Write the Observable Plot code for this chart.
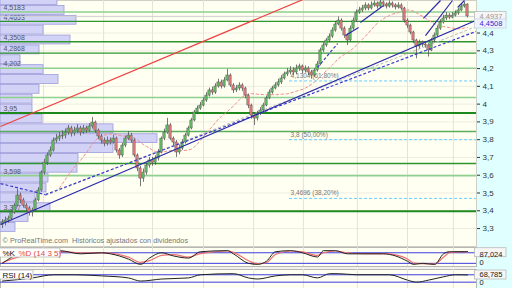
<!DOCTYPE html>
<html><head><meta charset="utf-8">
<script src="https://cdn.jsdelivr.net/npm/d3@7"></script>
<script src="https://cdn.jsdelivr.net/npm/@observablehq/plot@0.6"></script>
<style>
body{margin:0;background:#fff;}
#wrap{position:relative;width:512px;height:288px;overflow:hidden;background:#f2f2f2;font-family:"Liberation Sans",Arial,sans-serif;}
#cyan{position:absolute;left:476px;top:0;width:36px;height:288px;background:#e0ffff;}
</style></head>
<body><div id="wrap"><div id="cyan"></div></div>
<script>
// ---------- data ----------
const firstOpen = 3.32;
const closes = [3.334,3.345,3.356,3.390,3.429,3.486,3.458,3.429,3.413,3.390,
 3.401,3.458,3.514,3.615,3.671,3.711,3.739,3.795,3.806,3.818,
 3.823,3.840,3.863,3.835,3.851,3.863,3.840,3.863,3.851,3.874,
 3.896,3.851,3.818,3.795,3.778,3.795,3.784,3.806,3.739,3.711,
 3.767,3.806,3.823,3.795,3.711,3.638,3.581,3.615,3.654,3.683,
 3.671,3.694,3.728,3.806,3.840,3.880,3.806,3.784,3.728,3.750,
 3.784,3.823,3.863,3.908,3.953,3.975,3.992,4.020,4.048,4.077,
 4.065,4.099,4.122,4.099,4.133,4.161,4.105,4.077,4.088,4.105,
 4.088,4.048,3.992,3.936,3.919,3.947,3.964,3.992,4.032,4.065,
 4.088,4.105,4.122,4.144,4.167,4.178,4.189,4.178,4.200,4.212,
 4.189,4.200,4.178,4.161,4.189,4.223,4.302,4.330,4.358,4.380,
 4.414,4.448,4.470,4.425,4.386,4.358,4.425,4.470,4.515,4.527,
 4.538,4.555,4.538,4.555,4.566,4.549,4.572,4.560,4.549,4.566,
 4.555,4.544,4.555,4.538,4.470,4.442,4.403,4.358,4.324,4.347,
 4.335,4.330,4.302,4.358,4.386,4.425,4.459,4.482,4.498,4.487,
 4.498,4.510,4.527,4.549,4.560,4.4937];
const highs = [3.350,3.365,3.370,3.400,3.440,3.520,3.500,3.470,3.440,3.425,
 3.415,3.470,3.530,3.625,3.690,3.725,3.760,3.810,3.830,3.840,
 3.850,3.860,3.880,3.875,3.870,3.885,3.875,3.880,3.875,3.890,
 3.925,3.905,3.860,3.830,3.810,3.815,3.810,3.825,3.815,3.750,
 3.780,3.820,3.845,3.835,3.805,3.720,3.650,3.635,3.670,3.700,
 3.700,3.710,3.745,3.815,3.860,3.920,3.890,3.815,3.795,3.770,
 3.800,3.835,3.875,3.920,3.965,3.990,4.010,4.035,4.065,4.090,
 4.095,4.115,4.140,4.135,4.150,4.195,4.170,4.115,4.105,4.120,
 4.115,4.095,4.055,4.000,3.945,3.960,3.980,4.005,4.045,4.080,
 4.100,4.120,4.140,4.160,4.180,4.200,4.210,4.205,4.220,4.225,
 4.220,4.215,4.210,4.190,4.200,4.240,4.315,4.345,4.370,4.395,
 4.430,4.465,4.490,4.480,4.435,4.395,4.440,4.485,4.530,4.545,
 4.555,4.570,4.565,4.575,4.580,4.575,4.583,4.580,4.570,4.580,
 4.575,4.565,4.570,4.565,4.545,4.480,4.450,4.410,4.365,4.360,
 4.355,4.350,4.340,4.370,4.400,4.440,4.475,4.500,4.515,4.510,
 4.515,4.525,4.540,4.565,4.575,4.565];
const lows = [3.300,3.315,3.330,3.345,3.380,3.420,3.440,3.415,3.395,3.370,
 3.365,3.395,3.450,3.505,3.600,3.655,3.700,3.730,3.780,3.790,
 3.800,3.805,3.825,3.815,3.820,3.835,3.820,3.830,3.835,3.840,
 3.860,3.835,3.800,3.775,3.760,3.765,3.770,3.775,3.725,3.690,
 3.700,3.755,3.795,3.780,3.700,3.620,3.535,3.560,3.600,3.640,
 3.650,3.655,3.680,3.720,3.795,3.830,3.795,3.765,3.700,3.715,
 3.740,3.775,3.815,3.855,3.900,3.940,3.965,3.985,4.010,4.040,
 4.050,4.055,4.090,4.085,4.090,4.125,4.095,4.060,4.065,4.075,
 4.070,4.030,3.975,3.915,3.880,3.905,3.935,3.955,3.985,4.025,
 4.055,4.080,4.095,4.110,4.135,4.155,4.165,4.160,4.165,4.185,
 4.170,4.175,4.160,4.140,4.150,4.180,4.215,4.290,4.320,4.345,
 4.370,4.405,4.440,4.410,4.370,4.330,4.350,4.415,4.460,4.505,
 4.515,4.525,4.525,4.530,4.545,4.535,4.540,4.545,4.535,4.540,
 4.540,4.530,4.535,4.525,4.455,4.425,4.390,4.340,4.255,4.310,
 4.320,4.315,4.265,4.295,4.345,4.375,4.415,4.450,4.470,4.475,
 4.480,4.490,4.500,4.520,4.540,4.485];

// volume-by-price profile (bin lower bound, bin size, volume)
const binSize = 0.0555;
const binLows = [4.555,4.4995,4.444,4.3885,4.333,4.2775,4.222,4.1665,4.111,4.0555,4.0,3.9445,
 3.889,3.8335,3.778,3.7225,3.667,3.6115,3.556,3.5005,3.445,3.3895,3.334,3.2785];
const binVolumes = [570,640,760,430,700,390,200,430,580,390,320,320,
 420,1130,1570,1130,780,770,480,460,350,500,280,150];

// support / resistance levels
const levelLabels = [4.5183,4.4653,4.3508,4.2868,4.202,3.95,3.598,3.397];
const levelsDark = [4.4653,4.3508,4.2868,3.666];
const levelsLight = [4.5183,4.202,4.037,3.598];
const levelsMid = [3.846];
const levelsThick = [3.95,3.397];
const lastPrice = 4.4937;
const trendValue = 4.4508;

// fibonacci retracement
const fibLevels = [4.1304,3.8,3.4696];
const fibPct = ["61,80%","50,00%","38,20%"];
const fibStartIdx = 95.7;

// trend lines: [index1, price1, index2, price2]
const redLines = [[-0.67,3.874,132.7,4.819]];
const blueSolidLines = [[-0.67,3.323,158,4.4725],
 [140.3,4.482,146,4.583],[141,4.386,150,4.583],[151.7,4.544,154,4.583],
 [114.3,4.386,118.7,4.431],[119.3,4.459,127,4.555]];
const blueDashedLines = [[-0.67,3.553,14.3,3.491],[14.3,3.491,158,4.41],[105,4.206,111.7,4.341]];
const grayDashedLines = [[14.3,3.486,158,4.437]];

// vertical grid (candle index)
const gridIdx = [13.7,33.7,50,67,83.7,100.3,118.3,135,150.3];
const priceTicks = [3.3,3.4,3.5,3.6,3.7,3.8,3.9,4.0,4.1,4.2,4.3,4.4];

// stochastic %K, %D and RSI samples (candle index, value)
const stochIdx = [0,6,19,26,33,36,42,46,49,53,57,62,66,75,77,82,85,88,91,96,100,105,107,111,115,120,127,131,135,137,140,144,147,149,154,155];
const stochK = [20,74,92,74,80,74,44,14,50,80,62,50,86,92,74,20,14,32,86,92,80,56,92,92,74,74,74,62,32,14,20,14,74,86,86,87];
const stochD = [25,60,88,80,80,78,55,25,35,65,70,55,75,90,82,35,18,25,70,90,85,65,80,90,80,75,75,68,45,22,18,16,55,80,86,84];
const rsiIdx = [0,10,17,24,33,42,46,53,62,66,77,82,85,91,96,100,105,109,112,118,129,135,138,142,147,151,155];
const rsiVal = [36,53,70,70,64,53,36,47,53,70,76,53,47,64,70,70,53,76,76,70,70,41,30,41,59,70,69];

// ---------- build ----------
const comma = d => String(d).replace(".", ",");
const candles = closes.map((c, i) => ({i, o: i === 0 ? firstOpen : closes[i-1], h: highs[i], l: lows[i], c}));
const ma20 = closes.map((c, i) => ({i, v: i < 19 ? NaN : d3.mean(closes.slice(i-19, i+1))}));
const bins = binLows.map((lo, k) => ({lo, hi: lo + binSize, vol: binVolumes[k]}));
const seg = a => a.map(([x1,y1,x2,y2]) => ({x1,y1,x2,y2}));

const W = 512, MR = 36, MAIN_H = 246;
const xDomain = [-0.667, 158];
const yMain = [3.199, 4.583];
const base = {width: W, marginLeft: 0, marginRight: MR, marginTop: 0, marginBottom: 0,
  style: {background: "transparent", overflow: "visible", fontFamily: "Liberation Sans, Arial, sans-serif"}};
const wrap = document.getElementById("wrap");
function put(svg, top) { svg.style.position = "absolute"; svg.style.left = "0px"; svg.style.top = top + "px"; wrap.appendChild(svg); }

// layer 0: background grid + right axis
put(Plot.plot({...base, height: MAIN_H,
  x: {domain: xDomain, axis: null}, y: {domain: yMain, axis: null},
  marks: [
    Plot.frame({fill: "#fffff2", stroke: "#cfcfc8"}),
    Plot.ruleY(priceTicks, {stroke: "#ecece0"}),
    Plot.ruleX(gridIdx, {stroke: "#e4e4d6"}),
    Plot.axisY({anchor: "right", ticks: priceTicks, tickFormat: comma, tickSize: 3, tickPadding: 3, fontSize: 8, color: "#333"})
  ]}), 0);

// layer 1: volume profile
put(Plot.plot({...base, height: MAIN_H,
  x: {domain: [0, 4760], axis: null}, y: {domain: yMain, axis: null},
  marks: [
    Plot.rect(bins, {x1: 0, x2: "vol", y1: "lo", y2: "hi", fill: "#d2d2f6", stroke: "#9c9cdc", strokeWidth: 0.8, insetTop: 0.5, insetBottom: 0.5}),
    Plot.text(levelLabels, {x: 0, y: d => d, text: comma, dx: 3, dy: -4, textAnchor: "start", fontSize: 7, fill: "#555"})
  ]}), 0);

// layer 2: levels, lines, candles
put(Plot.plot({...base, height: MAIN_H,
  x: {domain: xDomain, axis: null}, y: {domain: yMain, axis: null},
  marks: [
    Plot.ruleY([lastPrice], {stroke: "#d0d0d0"}),
    Plot.ruleY(levelsLight, {stroke: "#8fd08f", strokeWidth: 1.6}),
    Plot.ruleY(levelsMid, {stroke: "#5cae5c", strokeWidth: 1.4}),
    Plot.ruleY(levelsDark, {stroke: "#2f962f", strokeWidth: 1.4}),
    Plot.ruleY(levelsThick, {stroke: "#1e8a1e", strokeWidth: 2}),
    Plot.ruleY(fibLevels, {x1: fibStartIdx, x2: xDomain[1], stroke: "#66ccff", strokeDasharray: "3,2"}),
    Plot.text(fibLevels, {x: fibStartIdx, y: d => d, text: (d, k) => `${comma(d)} (${fibPct[k]})`, dx: 1, dy: -5, textAnchor: "start", fontSize: 6.5, fill: "#777"}),
    Plot.line(ma20, {x: "i", y: "v", stroke: "#f08a8a", strokeWidth: 1, strokeDasharray: "2.5,2.5"}),
    Plot.link(seg(grayDashedLines), {x1: "x1", y1: "y1", x2: "x2", y2: "y2", stroke: "#b8b8b8", strokeDasharray: "3,2", clip: true}),
    Plot.ruleX(candles, {x: "i", y1: "l", y2: "h", stroke: "#555", strokeWidth: 0.8}),
    Plot.rect(candles, {x1: d => d.i - 0.38, x2: d => d.i + 0.38, y1: "o", y2: "c",
      fill: d => d.c >= d.o ? "#62c062" : "#e87a7a", stroke: "#555", strokeWidth: 0.5}),
    Plot.link(seg(redLines), {x1: "x1", y1: "y1", x2: "x2", y2: "y2", stroke: "#ee4444", strokeWidth: 1.2, clip: true}),
    Plot.link(seg(blueDashedLines), {x1: "x1", y1: "y1", x2: "x2", y2: "y2", stroke: "#3a3ad0", strokeWidth: 1.2, strokeDasharray: "3,2", clip: true}),
    Plot.link(seg(blueSolidLines), {x1: "x1", y1: "y1", x2: "x2", y2: "y2", stroke: "#2a2aa8", strokeWidth: 1.2, clip: true}),
    Plot.text(["© ProRealTime.com  Históricos ajustados con dividendos"], {frameAnchor: "bottom-left", dx: 2, dy: -6, textAnchor: "start", lineAnchor: "middle", fontSize: 7.3, fill: "#777"}),
    Plot.rect([lastPrice], {x1: xDomain[1], x2: xDomain[1], y1: d => d, y2: d => d, insetLeft: -1.5, insetRight: -30, insetTop: -4.5, insetBottom: -4.5, fill: "#f6f6f6", stroke: "#bbb", strokeWidth: 0.8}),
    Plot.text([lastPrice], {x: xDomain[1], y: d => d, text: comma, dx: 3, textAnchor: "start", fontSize: 7.5, fill: "#999"}),
    Plot.rect([trendValue], {x1: xDomain[1], x2: xDomain[1], y1: d => d, y2: d => d, insetLeft: -1.5, insetRight: -30, insetTop: -4.5, insetBottom: -4.5, fill: "#eef4ff", stroke: "#c8d0e0", strokeWidth: 0.8}),
    Plot.text([trendValue], {x: xDomain[1], y: d => d, text: comma, dx: 3, textAnchor: "start", fontSize: 7.5, fill: "#2b2bd0"})
  ]}), 0);

// indicator panels
function panel(top, h, domain, refs, series, title, rightLabels) {
  put(Plot.plot({...base, height: h,
    x: {domain: xDomain, axis: null}, y: {domain, axis: null},
    marks: [
      Plot.frame({fill: "#fffff2", stroke: "#b8b8b0"}),
      Plot.ruleX(gridIdx, {stroke: "#e4e4d6"}),
      Plot.ruleY(refs, {stroke: "#3c3ce0", strokeWidth: 1}),
      ...series,
      ...title,
      ...rightLabels
    ]}), top);
}
const xr = xDomain[1], xl = xDomain[0];
const box = (y, w, fill, stroke) => Plot.rect([0], {x1: xr, x2: xr, y1: () => y, y2: () => y, insetLeft: -1.5, insetRight: -w, insetTop: -4.5, insetBottom: -4.5, fill, stroke, strokeWidth: 0.8});

const stK = stochIdx.map((i, k) => ({i, v: stochK[k]}));
const stD = stochIdx.map((i, k) => ({i, v: stochD[k]}));
panel(247, 19, [2, 110], [80, 20], [
  Plot.line(stD, {x: "i", y: "v", stroke: "#f07070", strokeWidth: 1.2, curve: "monotone-x"}),
  Plot.line(stK, {x: "i", y: "v", stroke: "#222", strokeWidth: 1, curve: "monotone-x"})
], [
  Plot.rect([0], {x1: xl, x2: xl, y1: 110, y2: 110, insetLeft: -1, insetRight: -60, insetTop: 1, insetBottom: -10, fill: "#fff", stroke: "#bbb", strokeWidth: 0.8}),
  Plot.text(["%K"], {frameAnchor: "top-left", dx: 2, dy: 6, textAnchor: "start", lineAnchor: "middle", fontSize: 8, fill: "#111"}),
  Plot.text(["%D (14 3 5)"], {frameAnchor: "top-left", dx: 18, dy: 6, textAnchor: "start", lineAnchor: "middle", fontSize: 8, fill: "#e04848"})
], [
  box(80.5, 30, "#f6f6f6", "#bbb"),
  Plot.text(["87,024"], {frameAnchor: "top-right", dx: 3, dy: 7, textAnchor: "start", lineAnchor: "middle", fontSize: 7.5, fill: "#222"}),
  Plot.text(["0"], {frameAnchor: "top-right", dx: 3, dy: 15.5, textAnchor: "start", lineAnchor: "middle", fontSize: 7.5, fill: "#222"})
]);

const rs = rsiIdx.map((i, k) => ({i, v: rsiVal[k]}));
panel(269, 19, [-4.3, 98.6], [70, 30], [
  Plot.line(rs, {x: "i", y: "v", stroke: "#222", strokeWidth: 1, curve: "monotone-x"})
], [
  Plot.rect([0], {x1: xl, x2: xl, y1: 98.6, y2: 98.6, insetLeft: -1, insetRight: -33, insetTop: 1, insetBottom: -10, fill: "#fff", stroke: "#bbb", strokeWidth: 0.8}),
  Plot.text(["RSI (14)"], {frameAnchor: "top-left", dx: 2, dy: 6, textAnchor: "start", lineAnchor: "middle", fontSize: 8, fill: "#111"})
], [
  box(68.8, 30, "#f6f6f6", "#bbb"),
  Plot.text(["68,785"], {frameAnchor: "top-right", dx: 3, dy: 5.5, textAnchor: "start", lineAnchor: "middle", fontSize: 7.5, fill: "#222"}),
  Plot.text(["0"], {frameAnchor: "top-right", dx: 3, dy: 13.5, textAnchor: "start", lineAnchor: "middle", fontSize: 7.5, fill: "#222"})
]);
</script></body></html>
